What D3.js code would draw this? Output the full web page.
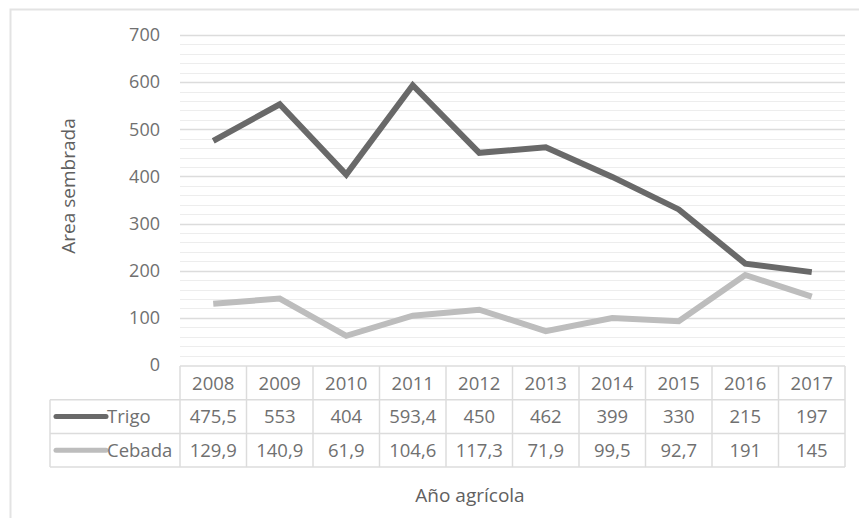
<!DOCTYPE html>
<html>
<head>
<meta charset="utf-8">
<script src="https://cdn.jsdelivr.net/npm/d3@7"></script>
<style>
  body { margin: 0; background: #fff; }
  svg { font-family: "Open Sans", "Liberation Sans", sans-serif; }
</style>
</head>
<body>
<svg width="859" height="518"></svg>
<script>
const years = ["2008", "2009", "2010", "2011", "2012", "2013", "2014", "2015", "2016", "2017"];
const trigo = [475.5, 553, 404, 593.4, 450, 462, 399, 330, 215, 197];
const cebada = [129.9, 140.9, 61.9, 104.6, 117.3, 71.9, 99.5, 92.7, 191, 145];
const yTicks = [0, 100, 200, 300, 400, 500, 600, 700];

const series = [
  { name: "Trigo", values: trigo, color: "#696969" },
  { name: "Cebada", values: cebada, color: "#bdbdbd" }
];

const svg = d3.select("svg");
const fmt = (v) => String(v).replace(".", ",");

// outer frame
svg.append("rect")
  .attr("x", 10.5).attr("y", 9.5)
  .attr("width", 860).attr("height", 520)
  .attr("fill", "none").attr("stroke", "#e3e3e3").attr("stroke-width", 2);

const plotL = 180, plotR = 845, plotT = 35, plotB = 365;

const x = d3.scaleBand().domain(years).range([plotL, plotR]);
const y = d3.scaleLinear().domain([0, 700]).range([plotB, plotT]);

// minor gridlines every 20
const minor = d3.range(20, 701, 20).filter((v) => v % 100 !== 0);
svg.append("g").selectAll("line")
  .data(minor).enter().append("line")
  .attr("x1", plotL).attr("x2", plotR)
  .attr("y1", (d) => Math.round(y(d)) + 0.5).attr("y2", (d) => Math.round(y(d)) + 0.5)
  .attr("stroke", "#ededed").attr("stroke-width", 1);

// major gridlines
svg.append("g").selectAll("line")
  .data(yTicks.filter((d) => d > 0)).enter().append("line")
  .attr("x1", plotL).attr("x2", plotR)
  .attr("y1", (d) => Math.round(y(d)) + 0.5).attr("y2", (d) => Math.round(y(d)) + 0.5)
  .attr("stroke", "#dcdcdc").attr("stroke-width", 1.5);

// y axis labels
const yAxis = d3.axisLeft(y).tickValues(yTicks).tickSize(0).tickPadding(20);
const yg = svg.append("g").attr("transform", `translate(${plotL},0)`).call(yAxis);
yg.select(".domain").remove();
yg.selectAll("text").attr("fill", "#707070").style("font-size", "18px")
  .style("font-family", "'Open Sans', sans-serif");

// lines
const line = d3.line()
  .x((d, i) => x(years[i]) + x.bandwidth() / 2)
  .y((d) => y(d));

series.forEach((s) => {
  svg.append("path")
    .datum(s.values)
    .attr("d", line)
    .attr("fill", "none")
    .attr("stroke", s.color)
    .attr("stroke-width", 6)
    .attr("stroke-linejoin", "miter")
    .attr("stroke-linecap", "butt");
});

// data table
const rowH = 33.7;
const tableTop = plotB + 1;
const legendLeft = 50;
const grid = svg.append("g").attr("stroke", "#dcdcdc").attr("stroke-width", 1.5).attr("fill", "none");

// horizontal rules
grid.append("line").attr("x1", plotL).attr("x2", plotR).attr("y1", tableTop).attr("y2", tableTop);
[1, 2, 3].forEach((r) => {
  grid.append("line")
    .attr("x1", legendLeft).attr("x2", plotR)
    .attr("y1", tableTop + r * rowH).attr("y2", tableTop + r * rowH);
});
// vertical rules
grid.append("line").attr("x1", legendLeft).attr("x2", legendLeft)
  .attr("y1", tableTop + rowH).attr("y2", tableTop + 3 * rowH);
years.concat(["end"]).forEach((yr, i) => {
  const xx = plotL + i * x.step();
  grid.append("line").attr("x1", xx).attr("x2", xx)
    .attr("y1", tableTop).attr("y2", tableTop + 3 * rowH);
});

const cellText = svg.append("g")
  .attr("fill", "#707070")
  .style("font-size", "18.5px")
  .attr("text-anchor", "middle");

cellText.selectAll("text.yr")
  .data(years).enter().append("text")
  .attr("class", "yr")
  .attr("x", (d) => x(d) + x.bandwidth() / 2)
  .attr("y", tableTop + rowH / 2)
  .attr("dy", "0.36em")
  .text((d) => d);

series.forEach((s, r) => {
  const cy = tableTop + (r + 1.5) * rowH;
  cellText.selectAll(`text.v${r}`)
    .data(s.values).enter().append("text")
    .attr("class", `v${r}`)
    .attr("x", (d, i) => x(years[i]) + x.bandwidth() / 2)
    .attr("y", cy)
    .attr("dy", "0.36em")
    .text((d) => fmt(d));

  svg.append("line")
    .attr("x1", 56).attr("x2", 106)
    .attr("y1", cy).attr("y2", cy)
    .attr("stroke", s.color).attr("stroke-width", 5)
    .attr("stroke-linecap", "round");

  svg.append("text")
    .attr("x", 107).attr("y", cy).attr("dy", "0.36em")
    .attr("fill", "#707070").style("font-size", "18.5px")
    .text(s.name);
});

// axis titles
svg.append("text")
  .attr("x", 470).attr("y", 502)
  .attr("text-anchor", "middle")
  .attr("fill", "#606060").style("font-size", "19px")
  .text("Año agrícola");

svg.append("text")
  .attr("transform", "translate(75,186) rotate(-90)")
  .attr("text-anchor", "middle")
  .attr("fill", "#606060").style("font-size", "19px")
  .text("Area sembrada");
</script>
</body>
</html>
